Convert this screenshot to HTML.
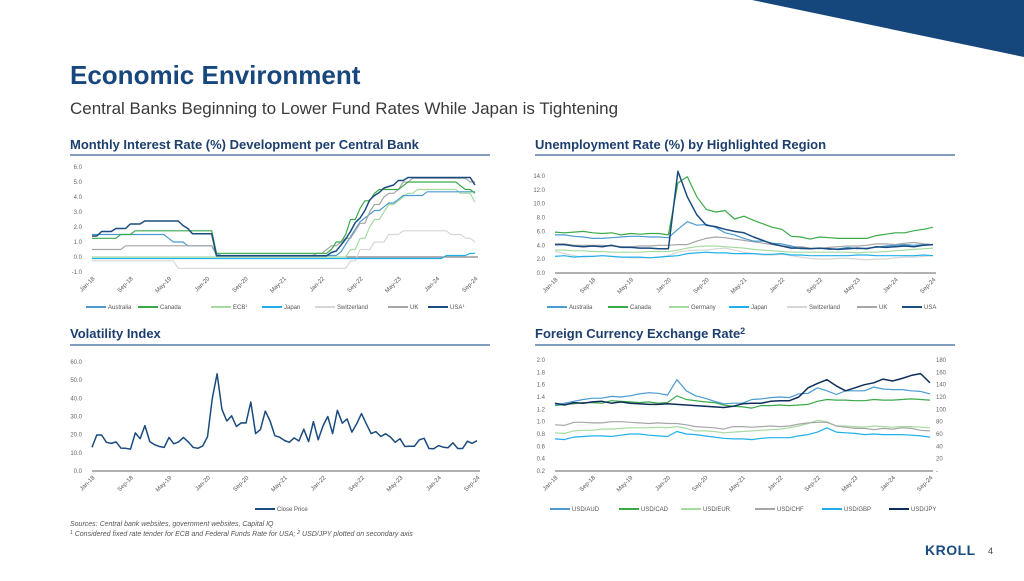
<!DOCTYPE html>
<html><head><meta charset="utf-8">
<style>
html,body{margin:0;padding:0;background:#fff;}
body{width:1024px;height:576px;overflow:hidden;position:relative;font-family:"Liberation Sans",sans-serif;}
svg text{font-family:"Liberation Sans",sans-serif;}
</style></head>
<body>
<svg id="s" width="1024" height="576" viewBox="0 0 1024 576" xmlns="http://www.w3.org/2000/svg">
<polygon points="752,0 1024,0 1024,57" fill="#16477c"/>
<text x="70" y="84" font-size="26" font-weight="bold" fill="#17477d">Economic Environment</text>
<text x="70" y="114" font-size="17" fill="#3a3a3a">Central Banks Beginning to Lower Fund Rates While Japan is Tightening</text>
<text x="70" y="149" font-size="13" font-weight="bold" fill="#1d3f6e">Monthly Interest Rate (%) Development per Central Bank</text>
<line x1="70" y1="155" x2="490" y2="155" stroke="#5a7aa6" stroke-width="1.5"/>
<text x="535" y="149" font-size="13" font-weight="bold" fill="#1d3f6e">Unemployment Rate (%) by Highlighted Region</text>
<line x1="535" y1="155" x2="955" y2="155" stroke="#5a7aa6" stroke-width="1.5"/>
<text x="70" y="338" font-size="13" font-weight="bold" fill="#1d3f6e">Volatility Index</text>
<line x1="70" y1="345" x2="490" y2="345" stroke="#5a7aa6" stroke-width="1.5"/>
<text x="535" y="338" font-size="13" font-weight="bold" fill="#1d3f6e">Foreign Currency Exchange Rate<tspan font-size="9" dy="-4">2</tspan></text>
<line x1="535" y1="345" x2="955" y2="345" stroke="#5a7aa6" stroke-width="1.5"/>
<text x="70" y="526" font-size="7" font-style="italic" fill="#555">Sources: Central bank websites, government websites, Capital IQ</text>
<text x="70" y="536" font-size="7" font-style="italic" fill="#555"><tspan font-size="5" dy="-2">1</tspan><tspan dy="2"> Considered fixed rate tender for ECB and Federal Funds Rate for USA; </tspan><tspan font-size="5" dy="-2">2</tspan><tspan dy="2"> USD/JPY plotted on secondary axis</tspan></text>
<text x="925" y="555" font-size="14" font-weight="bold" fill="#1a4b7f" letter-spacing="0.5">KROLL</text>
<text x="988" y="554" font-size="9" fill="#444">4</text>
<g id="charts"></g>
</svg>
<script>
const xLabels=["Jan-18","Sep-18","May-19","Jan-20","Sep-20","May-21","Jan-22","Sep-22","May-23","Jan-24","Sep-24"];
// Interest rates (monthly Jan-18..Sep-24)
const rateSeriesNames=["Australia","Canada","ECB","Japan","Switzerland","UK","USA"];
const rAustralia=[1.5,1.5,1.5,1.5,1.5,1.5,1.5,1.5,1.5,1.5,1.5,1.5,1.5,1.5,1.5,1.5,1.25,1,1,1,0.75,0.75,0.75,0.75,0.75,0.75,0.25,0.1,0.1,0.1,0.1,0.1,0.1,0.1,0.1,0.1,0.1,0.1,0.1,0.1,0.1,0.1,0.1,0.1,0.1,0.1,0.1,0.1,0.1,0.1,0.1,0.1,0.35,0.85,1.35,1.85,2.35,2.6,2.85,3.1,3.1,3.35,3.6,3.6,3.85,4.1,4.1,4.1,4.1,4.1,4.35,4.35,4.35,4.35,4.35,4.35,4.35,4.35,4.35,4.35,4.35];
const rCanada=[1.25,1.25,1.25,1.25,1.25,1.25,1.5,1.5,1.5,1.75,1.75,1.75,1.75,1.75,1.75,1.75,1.75,1.75,1.75,1.75,1.75,1.75,1.75,1.75,1.75,1.75,0.25,0.25,0.25,0.25,0.25,0.25,0.25,0.25,0.25,0.25,0.25,0.25,0.25,0.25,0.25,0.25,0.25,0.25,0.25,0.25,0.25,0.25,0.25,0.25,0.5,1,1,1.5,2.5,2.5,3.25,3.75,3.75,4.25,4.5,4.5,4.5,4.5,4.5,4.75,5,5,5,5,5,5,5,5,5,5,5,4.75,4.5,4.5,4.25];
const rECB=[0,0,0,0,0,0,0,0,0,0,0,0,0,0,0,0,0,0,0,0,0,0,0,0,0,0,0,0,0,0,0,0,0,0,0,0,0,0,0,0,0,0,0,0,0,0,0,0,0,0,0,0,0,0,0.5,0.5,1.25,1.25,2,2.5,2.5,3,3.5,3.5,3.75,4,4.25,4.25,4.5,4.5,4.5,4.5,4.5,4.5,4.5,4.5,4.5,4.25,4.25,4.25,3.65];
const rJapan=[-0.1,-0.1,-0.1,-0.1,-0.1,-0.1,-0.1,-0.1,-0.1,-0.1,-0.1,-0.1,-0.1,-0.1,-0.1,-0.1,-0.1,-0.1,-0.1,-0.1,-0.1,-0.1,-0.1,-0.1,-0.1,-0.1,-0.1,-0.1,-0.1,-0.1,-0.1,-0.1,-0.1,-0.1,-0.1,-0.1,-0.1,-0.1,-0.1,-0.1,-0.1,-0.1,-0.1,-0.1,-0.1,-0.1,-0.1,-0.1,-0.1,-0.1,-0.1,-0.1,-0.1,-0.1,-0.1,-0.1,-0.1,-0.1,-0.1,-0.1,-0.1,-0.1,-0.1,-0.1,-0.1,-0.1,-0.1,-0.1,-0.1,-0.1,-0.1,-0.1,-0.1,-0.1,0.1,0.1,0.1,0.1,0.1,0.25,0.25];
const rSwiss=[-0.25,-0.25,-0.25,-0.25,-0.25,-0.25,-0.25,-0.25,-0.25,-0.25,-0.25,-0.25,-0.25,-0.25,-0.25,-0.25,-0.25,-0.25,-0.75,-0.75,-0.75,-0.75,-0.75,-0.75,-0.75,-0.75,-0.75,-0.75,-0.75,-0.75,-0.75,-0.75,-0.75,-0.75,-0.75,-0.75,-0.75,-0.75,-0.75,-0.75,-0.75,-0.75,-0.75,-0.75,-0.75,-0.75,-0.75,-0.75,-0.75,-0.75,-0.75,-0.75,-0.75,-0.75,-0.25,-0.25,0.5,0.5,0.5,1,1,1,1.5,1.5,1.5,1.75,1.75,1.75,1.75,1.75,1.75,1.75,1.75,1.75,1.75,1.5,1.5,1.5,1.25,1.25,1];
const rUK=[0.5,0.5,0.5,0.5,0.5,0.5,0.5,0.75,0.75,0.75,0.75,0.75,0.75,0.75,0.75,0.75,0.75,0.75,0.75,0.75,0.75,0.75,0.75,0.75,0.75,0.75,0.1,0.1,0.1,0.1,0.1,0.1,0.1,0.1,0.1,0.1,0.1,0.1,0.1,0.1,0.1,0.1,0.1,0.1,0.1,0.1,0.1,0.25,0.25,0.5,0.75,0.75,1,1.25,1.25,1.75,2.25,2.25,3,3.5,3.5,4,4.25,4.25,4.5,5,5,5.25,5.25,5.25,5.25,5.25,5.25,5.25,5.25,5.25,5.25,5.25,5.25,5,5];
const rUSA=[1.4,1.4,1.7,1.7,1.7,1.9,1.9,1.9,2.2,2.2,2.2,2.4,2.4,2.4,2.4,2.4,2.4,2.4,2.4,2.1,1.9,1.55,1.55,1.55,1.55,1.55,0.08,0.08,0.08,0.08,0.08,0.08,0.08,0.08,0.08,0.08,0.08,0.08,0.08,0.08,0.08,0.08,0.08,0.08,0.08,0.08,0.08,0.08,0.08,0.08,0.3,0.4,0.8,1.2,1.7,2.3,2.6,3.1,3.8,4.1,4.3,4.6,4.7,4.8,5.1,5.1,5.3,5.3,5.3,5.3,5.3,5.3,5.3,5.3,5.3,5.3,5.3,5.3,5.3,5.3,4.8];
const rateTicks=[-1,0,1,2,3,4,5,6];
const rateTickLabels=["-1.0","0.0","1.0","2.0","3.0","4.0","5.0","6.0"];
// Unemployment (bi-monthly)
const unempNames=["Australia","Canada","Germany","Japan","Switzerland","UK","USA"];
const uAustralia=[5.5,5.5,5.3,5.2,5.0,5.0,5.1,5.2,5.3,5.3,5.2,5.2,5.1,6.3,7.4,6.9,7.0,6.6,5.8,5.5,5.0,4.6,4.6,4.3,4.2,3.9,3.5,3.5,3.6,3.4,3.5,3.7,3.5,3.6,3.7,3.9,4.0,4.1,4.0,4.1,4.1];
const uCanada=[5.9,5.8,5.9,6.0,5.8,5.7,5.8,5.5,5.7,5.6,5.7,5.7,5.5,13.0,13.9,11.0,9.2,8.8,9.0,7.8,8.2,7.6,7.1,6.6,6.3,5.3,5.2,4.9,5.2,5.1,5.0,5.0,5.0,5.0,5.4,5.6,5.8,5.8,6.1,6.3,6.6];
const uGermany=[3.3,3.3,3.2,3.2,3.1,3.1,3.0,3.0,3.0,3.0,3.1,3.1,3.1,3.3,3.6,3.8,3.9,3.9,3.8,3.7,3.6,3.4,3.3,3.2,3.1,3.0,3.0,3.0,3.0,3.0,3.0,3.0,2.9,3.0,3.0,3.1,3.2,3.3,3.4,3.5,3.6];
const uJapan=[2.4,2.5,2.3,2.4,2.4,2.5,2.4,2.3,2.3,2.3,2.2,2.3,2.4,2.5,2.8,2.9,3.0,2.9,2.9,2.8,2.8,2.8,2.7,2.7,2.8,2.6,2.6,2.5,2.5,2.5,2.5,2.5,2.6,2.6,2.5,2.5,2.5,2.5,2.5,2.6,2.5];
const uSwiss=[3.1,2.8,2.5,2.3,2.4,2.5,2.4,2.3,2.2,2.2,2.2,2.3,2.5,3.0,3.2,3.3,3.3,3.5,3.6,3.3,3.0,2.8,2.6,2.6,2.7,2.5,2.3,2.1,2.0,2.0,2.1,2.1,2.0,1.9,2.0,2.0,2.2,2.3,2.3,2.4,2.5];
const uUK=[4.2,4.2,4.0,4.0,4.0,4.0,3.9,3.8,3.8,3.9,3.9,4.0,4.0,4.1,4.1,4.6,5.0,5.2,5.1,4.9,4.7,4.5,4.3,4.1,3.9,3.8,3.8,3.6,3.5,3.7,3.8,3.9,3.9,4.0,4.2,4.2,4.1,4.3,4.4,4.2,4.1];
const uUSA=[4.1,4.1,3.9,3.8,3.9,3.8,4.0,3.7,3.7,3.6,3.6,3.5,3.5,14.7,11.0,8.4,6.9,6.7,6.3,6.0,5.8,5.2,4.7,4.2,3.9,3.6,3.6,3.5,3.6,3.5,3.4,3.5,3.6,3.5,3.8,3.7,3.8,3.9,3.8,4.0,4.1];
const unempTicks=[0,2,4,6,8,10,12,14];
const unempTickLabels=["0.0","2.0","4.0","6.0","8.0","10.0","12.0","14.0"];
// VIX (monthly)
const vixClose=[13,19.8,19.8,15.8,15.2,16,12.6,12.5,12,21,17.8,25,16.2,14.5,13.5,13,18.5,15,16,18.5,16,13,12.5,13.8,18.8,40,53.5,34,27.5,30.4,24.5,26.5,26.4,38,20.6,22.8,33,27.5,19.4,18.6,16.8,15.8,18.2,16.5,23,16.2,27.2,17.2,24.8,30,20.6,33.4,26.3,28.7,21.4,26,31.6,26,20.6,21.7,19,20.5,18.7,15.8,17.8,13.5,13.6,13.6,17.2,18,12.4,12.3,14,13.1,12.8,15.5,12.4,12.4,16.4,15.2,16.7];
const vixTicks=[0,10,20,30,40,50,60];
const vixTickLabels=["0.0","10.0","20.0","30.0","40.0","50.0","60.0"];
// FX (bi-monthly)
const fxNames=["USD/AUD","USD/CAD","USD/EUR","USD/CHF","USD/GBP","USD/JPY"];
const fxAUD=[1.27,1.3,1.33,1.36,1.38,1.38,1.41,1.4,1.42,1.45,1.47,1.46,1.43,1.68,1.5,1.42,1.38,1.33,1.29,1.3,1.3,1.36,1.37,1.39,1.4,1.39,1.45,1.46,1.55,1.5,1.44,1.5,1.5,1.5,1.56,1.53,1.52,1.52,1.5,1.49,1.45];
const fxCAD=[1.26,1.28,1.29,1.31,1.31,1.3,1.34,1.33,1.32,1.31,1.32,1.3,1.31,1.42,1.36,1.34,1.32,1.31,1.27,1.25,1.24,1.22,1.26,1.26,1.27,1.26,1.27,1.28,1.33,1.36,1.35,1.35,1.34,1.34,1.36,1.35,1.35,1.36,1.37,1.36,1.35];
const fxEUR=[0.82,0.81,0.85,0.86,0.86,0.88,0.88,0.89,0.9,0.9,0.9,0.91,0.9,0.92,0.89,0.85,0.85,0.84,0.82,0.83,0.84,0.85,0.86,0.87,0.88,0.9,0.93,0.97,1.02,1.0,0.93,0.93,0.92,0.91,0.93,0.92,0.91,0.92,0.92,0.91,0.9];
const fxCHF=[0.95,0.94,0.99,0.99,0.98,0.98,1.0,1.0,0.99,0.98,0.97,0.98,0.97,0.97,0.95,0.92,0.91,0.9,0.88,0.92,0.92,0.91,0.92,0.93,0.92,0.93,0.96,0.98,0.99,0.99,0.93,0.91,0.89,0.89,0.87,0.89,0.88,0.9,0.89,0.86,0.85];
const fxGBP=[0.72,0.71,0.75,0.76,0.77,0.77,0.76,0.78,0.8,0.8,0.78,0.77,0.76,0.84,0.8,0.79,0.77,0.75,0.73,0.72,0.72,0.71,0.73,0.74,0.74,0.74,0.77,0.79,0.83,0.9,0.83,0.82,0.81,0.79,0.8,0.79,0.79,0.79,0.78,0.77,0.75];
const fxJPY=[110,107,111,110,112,113,110,112,110,109,108,108,109,108,107,106,105,104,103,105,109,110,110,113,114,114,120,135,142,148,138,130,135,140,143,149,146,150,155,158,143];
const fxLeftTicks=[0.2,0.4,0.6,0.8,1.0,1.2,1.4,1.6,1.8,2.0];
const fxLeftLabels=["0.2","0.4","0.6","0.8","1.0","1.2","1.4","1.6","1.8","2.0"];
const fxRightTicks=[0,20,40,60,80,100,120,140,160,180];
const fxRightLabels=["-","20","40","60","80","100","120","140","160","180"];

const NS="http://www.w3.org/2000/svg";
const root=document.getElementById('charts');
function mk(tag,attrs,parent){const e=document.createElementNS(NS,tag);for(const k in attrs)e.setAttribute(k,attrs[k]);(parent||root).appendChild(e);return e;}

function chart(cfg){
  const g=mk('g',{});
  
  
  const x=i=>cfg.x0+(cfg.x1-cfg.x0)*i;
  const y=v=>cfg.yb+(cfg.yt-cfg.yb)*(v-cfg.vmin)/(cfg.vmax-cfg.vmin);
  cfg.ticks.forEach((t,i)=>{
    const tx=mk('text',{x:cfg.x0-10,y:y(t)+2,'font-size':6,fill:'#666','text-anchor':'end'},g);
    tx.textContent=cfg.tickLabels[i];
    
    
  });
  if(cfg.rTicks){
    const yr=v=>cfg.yb+(cfg.yt-cfg.yb)*(v-cfg.rmin)/(cfg.rmax-cfg.rmin);
    cfg.rTicks.forEach((t,i)=>{
      const tx=mk('text',{x:cfg.x1+6,y:yr(t)+2,'font-size':6,fill:'#666'},g);
      tx.textContent=cfg.rLabels[i];
      
      
    });
  }
  const ax=mk('line',{x1:cfg.x0,x2:cfg.x1+3,y1:y(cfg.axisVal),y2:y(cfg.axisVal),stroke:'#666','stroke-width':1},g);
  
  
  xLabels.forEach((l,i)=>{
    const px=x(i/(xLabels.length-1));const py=cfg.labelY;
    const tx=mk('text',{x:px+3,y:py,'font-size':6,fill:'#555','text-anchor':'end',transform:`rotate(-45 ${px+3} ${py})`},g);
    tx.textContent=l;
    
    
  });
  cfg.series.forEach(s=>{
    const n=s.data.length;
    const yf=s.right?(v=>cfg.yb+(cfg.yt-cfg.yb)*(v-cfg.rmin)/(cfg.rmax-cfg.rmin)):y;
    const pts=s.data.map((v,i)=>x(i/(n-1)).toFixed(1)+','+yf(v).toFixed(1)).join(' ');
    const p=mk('polyline',{points:pts,fill:'none',stroke:s.color,'stroke-width':s.w||1.2,'stroke-linejoin':'round'},g);
    
    
  });
  cfg.legend.forEach(L=>{
    const ln=mk('line',{x1:L.x,x2:L.x+20,y1:cfg.legY,y2:cfg.legY,stroke:L.color,'stroke-width':2},g);
    
    
    const tx=mk('text',{x:L.x+22,y:cfg.legY+2,'font-size':6,fill:'#555'},g);
    tx.textContent=L.label;
    if(L.sup){const ts=mk('tspan',{'font-size':4,dy:-2},tx);ts.textContent=L.sup;}
    
    
  });
}
const C={aus:'#4a9bd0',can:'#3aaa48',ecb:'#a6dba0',jpn:'#1fb0ec',swi:'#d6d6d6',uk:'#a6a6a6',usa:'#1a4b7f',jpy:'#0f2e5a'};
chart({name:'interest-rate-chart',x0:92,x1:475,yb:272,yt:167,vmin:-1,vmax:6,axisVal:0,labelY:279,
  ticks:rateTicks,tickLabels:rateTickLabels,legY:307,
  series:[{label:'Switzerland',data:rSwiss,color:C.swi},{label:'Japan',data:rJapan,color:C.jpn},{label:'ECB',data:rECB,color:C.ecb},{label:'Australia',data:rAustralia,color:C.aus},{label:'UK',data:rUK,color:C.uk},{label:'Canada',data:rCanada,color:C.can},{label:'USA',data:rUSA,color:C.usa,w:1.5}],
  legend:[{x:86,label:'Australia',color:C.aus},{x:138,label:'Canada',color:C.can},{x:211,label:'ECB',sup:'1',color:C.ecb},{x:262,label:'Japan',color:C.jpn},{x:315,label:'Switzerland',color:C.swi},{x:388,label:'UK',color:C.uk},{x:428,label:'USA',sup:'1',color:C.usa}]});
chart({name:'unemployment-chart',x0:555,x1:933,yb:273,yt:176,vmin:0,vmax:14,axisVal:0,labelY:280,
  ticks:unempTicks,tickLabels:unempTickLabels,legY:307,
  series:[{label:'Switzerland',data:uSwiss,color:C.swi},{label:'Japan',data:uJapan,color:C.jpn},{label:'Germany',data:uGermany,color:C.ecb},{label:'UK',data:uUK,color:C.uk},{label:'Australia',data:uAustralia,color:C.aus},{label:'Canada',data:uCanada,color:C.can},{label:'USA',data:uUSA,color:C.usa,w:1.5}],
  legend:[{x:547,label:'Australia',color:C.aus},{x:608,label:'Canada',color:C.can},{x:669,label:'Germany',color:C.ecb},{x:729,label:'Japan',color:C.jpn},{x:787,label:'Switzerland',color:C.swi},{x:857,label:'UK',color:C.uk},{x:902,label:'USA',color:C.usa}]});
chart({name:'volatility-chart',x0:92,x1:477,yb:471,yt:362,vmin:0,vmax:60,axisVal:0,labelY:478,
  ticks:vixTicks,tickLabels:vixTickLabels,legY:509,
  series:[{label:'Close Price',data:vixClose,color:'#1a4b7f',w:1.5}],
  legend:[{x:255,label:'Close Price',color:'#1a4b7f'}]});
chart({name:'fx-chart',x0:555,x1:930,yb:471,yt:360,vmin:0.2,vmax:2.0,rmin:0,rmax:180,axisVal:0.2,labelY:478,
  ticks:fxLeftTicks,tickLabels:fxLeftLabels,rTicks:fxRightTicks,rLabels:fxRightLabels,legY:509,
  series:[{label:'USD/EUR',data:fxEUR,color:C.ecb},{label:'USD/CHF',data:fxCHF,color:C.uk},{label:'USD/GBP',data:fxGBP,color:C.jpn},{label:'USD/CAD',data:fxCAD,color:C.can},{label:'USD/AUD',data:fxAUD,color:C.aus},{label:'USD/JPY',data:fxJPY,color:C.jpy,right:true,w:1.5}],
  legend:[{x:550,label:'USD/AUD',color:C.aus},{x:619,label:'USD/CAD',color:C.can},{x:681,label:'USD/EUR',color:C.ecb},{x:755,label:'USD/CHF',color:C.uk},{x:822,label:'USD/GBP',color:C.jpn},{x:889,label:'USD/JPY',color:C.jpy}]});
</script>
</body></html>
